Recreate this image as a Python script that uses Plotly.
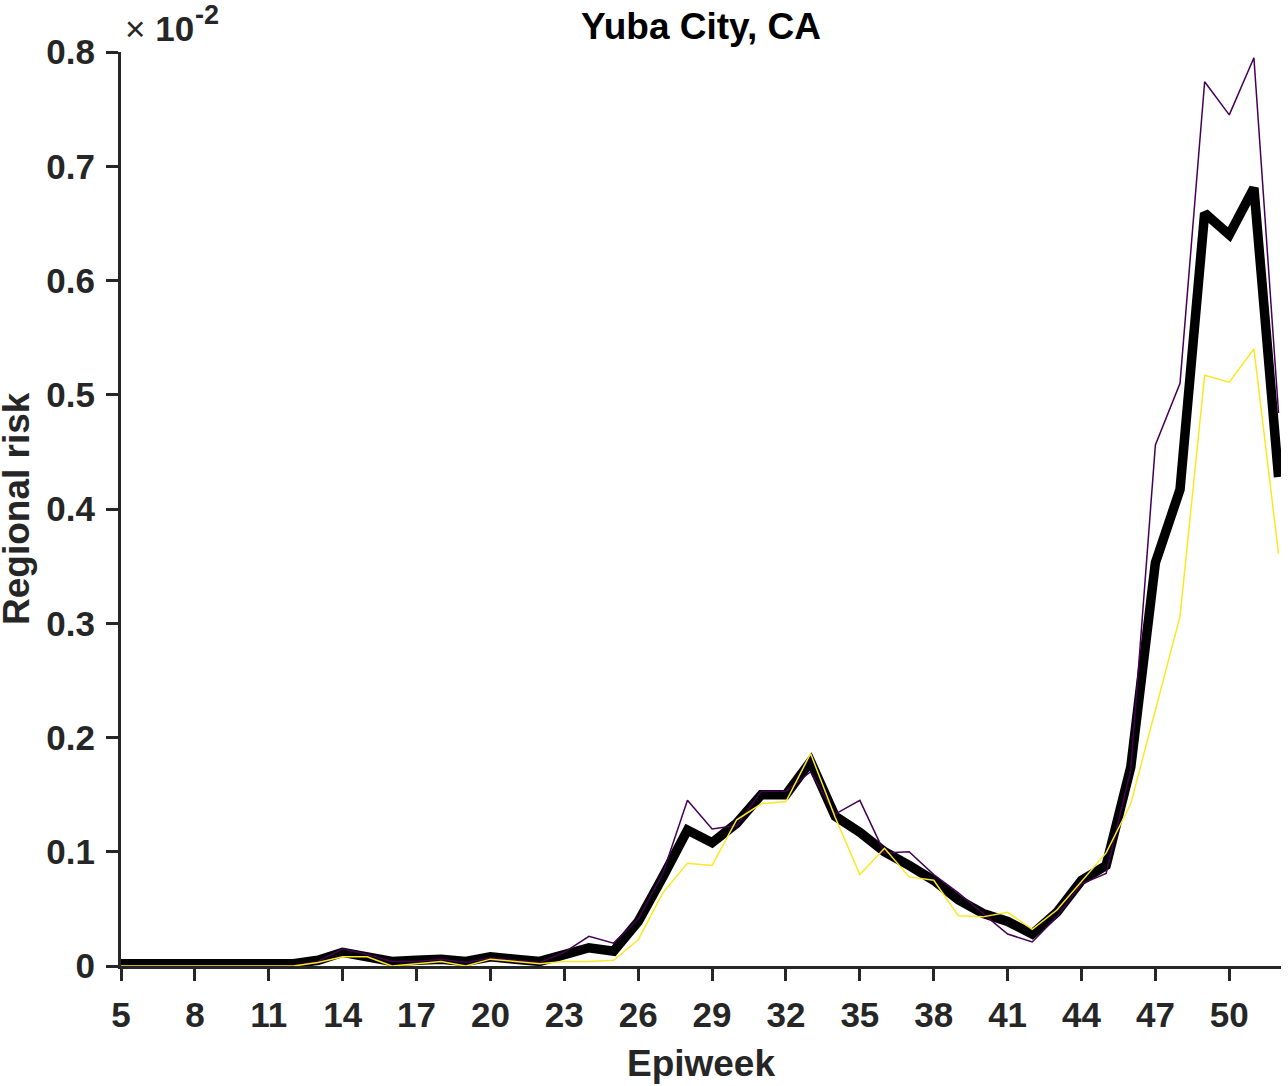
import plotly.graph_objects as go

weeks = list(range(5, 53))
mean_risk = [0.002, 0.002, 0.002, 0.002, 0.002, 0.002, 0.002, 0.002, 0.005, 0.012,
             0.008, 0.004, 0.005, 0.006, 0.004, 0.008, 0.006, 0.004, 0.010, 0.016,
             0.013, 0.039, 0.078, 0.119, 0.108, 0.125, 0.150, 0.150, 0.179, 0.131,
             0.117, 0.100, 0.088, 0.075, 0.058, 0.046, 0.039, 0.028, 0.047, 0.075,
             0.088, 0.174, 0.353, 0.417, 0.659, 0.640, 0.681, 0.428]
upper_risk = [0.0, 0.0, 0.0, 0.0, 0.0, 0.0, 0.0, 0.0, 0.004, 0.015,
              0.010, 0.004, 0.004, 0.006, 0.003, 0.007, 0.005, 0.003, 0.012, 0.026,
              0.020, 0.041, 0.081, 0.145, 0.120, 0.123, 0.153, 0.153, 0.170, 0.133,
              0.145, 0.099, 0.100, 0.080, 0.064, 0.046, 0.028, 0.021, 0.043, 0.072,
              0.081, 0.172, 0.456, 0.510, 0.774, 0.745, 0.795, 0.484]
lower_risk = [0.0, 0.0, 0.0, 0.0, 0.0, 0.0, 0.0, 0.0, 0.003, 0.008,
              0.008, 0.0, 0.002, 0.004, 0.0, 0.006, 0.004, 0.002, 0.004, 0.004,
              0.005, 0.023, 0.064, 0.090, 0.088, 0.128, 0.142, 0.144, 0.186, 0.130,
              0.080, 0.103, 0.078, 0.075, 0.044, 0.043, 0.047, 0.032, 0.049, 0.074,
              0.099, 0.142, 0.225, 0.306, 0.517, 0.511, 0.540, 0.361]

x_ticks = list(range(5, 51, 3))
y_ticks = [0, 0.1, 0.2, 0.3, 0.4, 0.5, 0.6, 0.7, 0.8]
y_tick_text = ["0", "0.1", "0.2", "0.3", "0.4", "0.5", "0.6", "0.7", "0.8"]

axis_color = "#262626"
font_family = "Liberation Sans, Arial, sans-serif"

fig = go.Figure()
fig.add_trace(go.Scatter(x=weeks, y=mean_risk, mode="lines",
                         line=dict(color="black", width=9.5), showlegend=False))
fig.add_trace(go.Scatter(x=weeks, y=upper_risk, mode="lines",
                         line=dict(color="#440154", width=1.5), showlegend=False))
fig.add_trace(go.Scatter(x=weeks, y=lower_risk, mode="lines",
                         line=dict(color="#FDE725", width=1.5), showlegend=False))

W, H = 1288, 1086
ML, MR, MT, MB = 121, 7, 52, 120

fig.update_layout(
    width=W, height=H,
    margin=dict(l=ML, r=MR, t=MT, b=MB),
    paper_bgcolor="white", plot_bgcolor="white",
    font=dict(family=font_family, color=axis_color, size=35),
    title=dict(text="<b>Yuba City, CA</b>", x=(ML + (W - MR)) / 2 / W, xanchor="center",
               y=1 - 26 / H, yanchor="middle",
               font=dict(size=37, color="black", family=font_family)),
    xaxis=dict(range=[5, 52.1], tickvals=x_ticks, ticktext=[f"<b>{t}</b>" for t in x_ticks],
               showgrid=False, zeroline=False, showline=True, linecolor=axis_color,
               linewidth=3, ticks="outside", ticklen=12, tickwidth=3, tickcolor=axis_color,
               tickfont=dict(size=35, color=axis_color), ticklabelstandoff=4, automargin=False,
               title=dict(text="<b>Epiweek</b>", font=dict(size=37, color=axis_color), standoff=18)),
    yaxis=dict(range=[0, 0.8], tickvals=y_ticks, ticktext=[f"<b>{t}</b>" for t in y_tick_text],
               showgrid=False, zeroline=False, showline=True, linecolor=axis_color,
               linewidth=3, ticks="outside", ticklen=12, tickwidth=3, tickcolor=axis_color,
               tickfont=dict(size=35, color=axis_color), ticklabelstandoff=4, automargin=False),
    annotations=[
        dict(text="<b>Regional risk</b>", textangle=-90, xref="paper", yref="paper",
             x=0.0, y=0.5, xanchor="center", yanchor="middle", xshift=-(ML - 16),
             showarrow=False, font=dict(size=37, color=axis_color, family=font_family)),
        dict(text="× <b>10</b>", xref="paper", yref="paper",
             x=0.0, y=1.0, xanchor="left", yanchor="middle", xshift=2, yshift=24,
             showarrow=False, font=dict(size=35, color=axis_color, family=font_family)),
        dict(text="<b>-2</b>", xref="paper", yref="paper",
             x=0.0, y=1.0, xanchor="left", yanchor="middle", xshift=72, yshift=37,
             showarrow=False, font=dict(size=27, color=axis_color, family=font_family)),
    ],
)

fig.write_html("out.html", config={"displayModeBar": False},
               post_script="document.body.style.margin='0';")
